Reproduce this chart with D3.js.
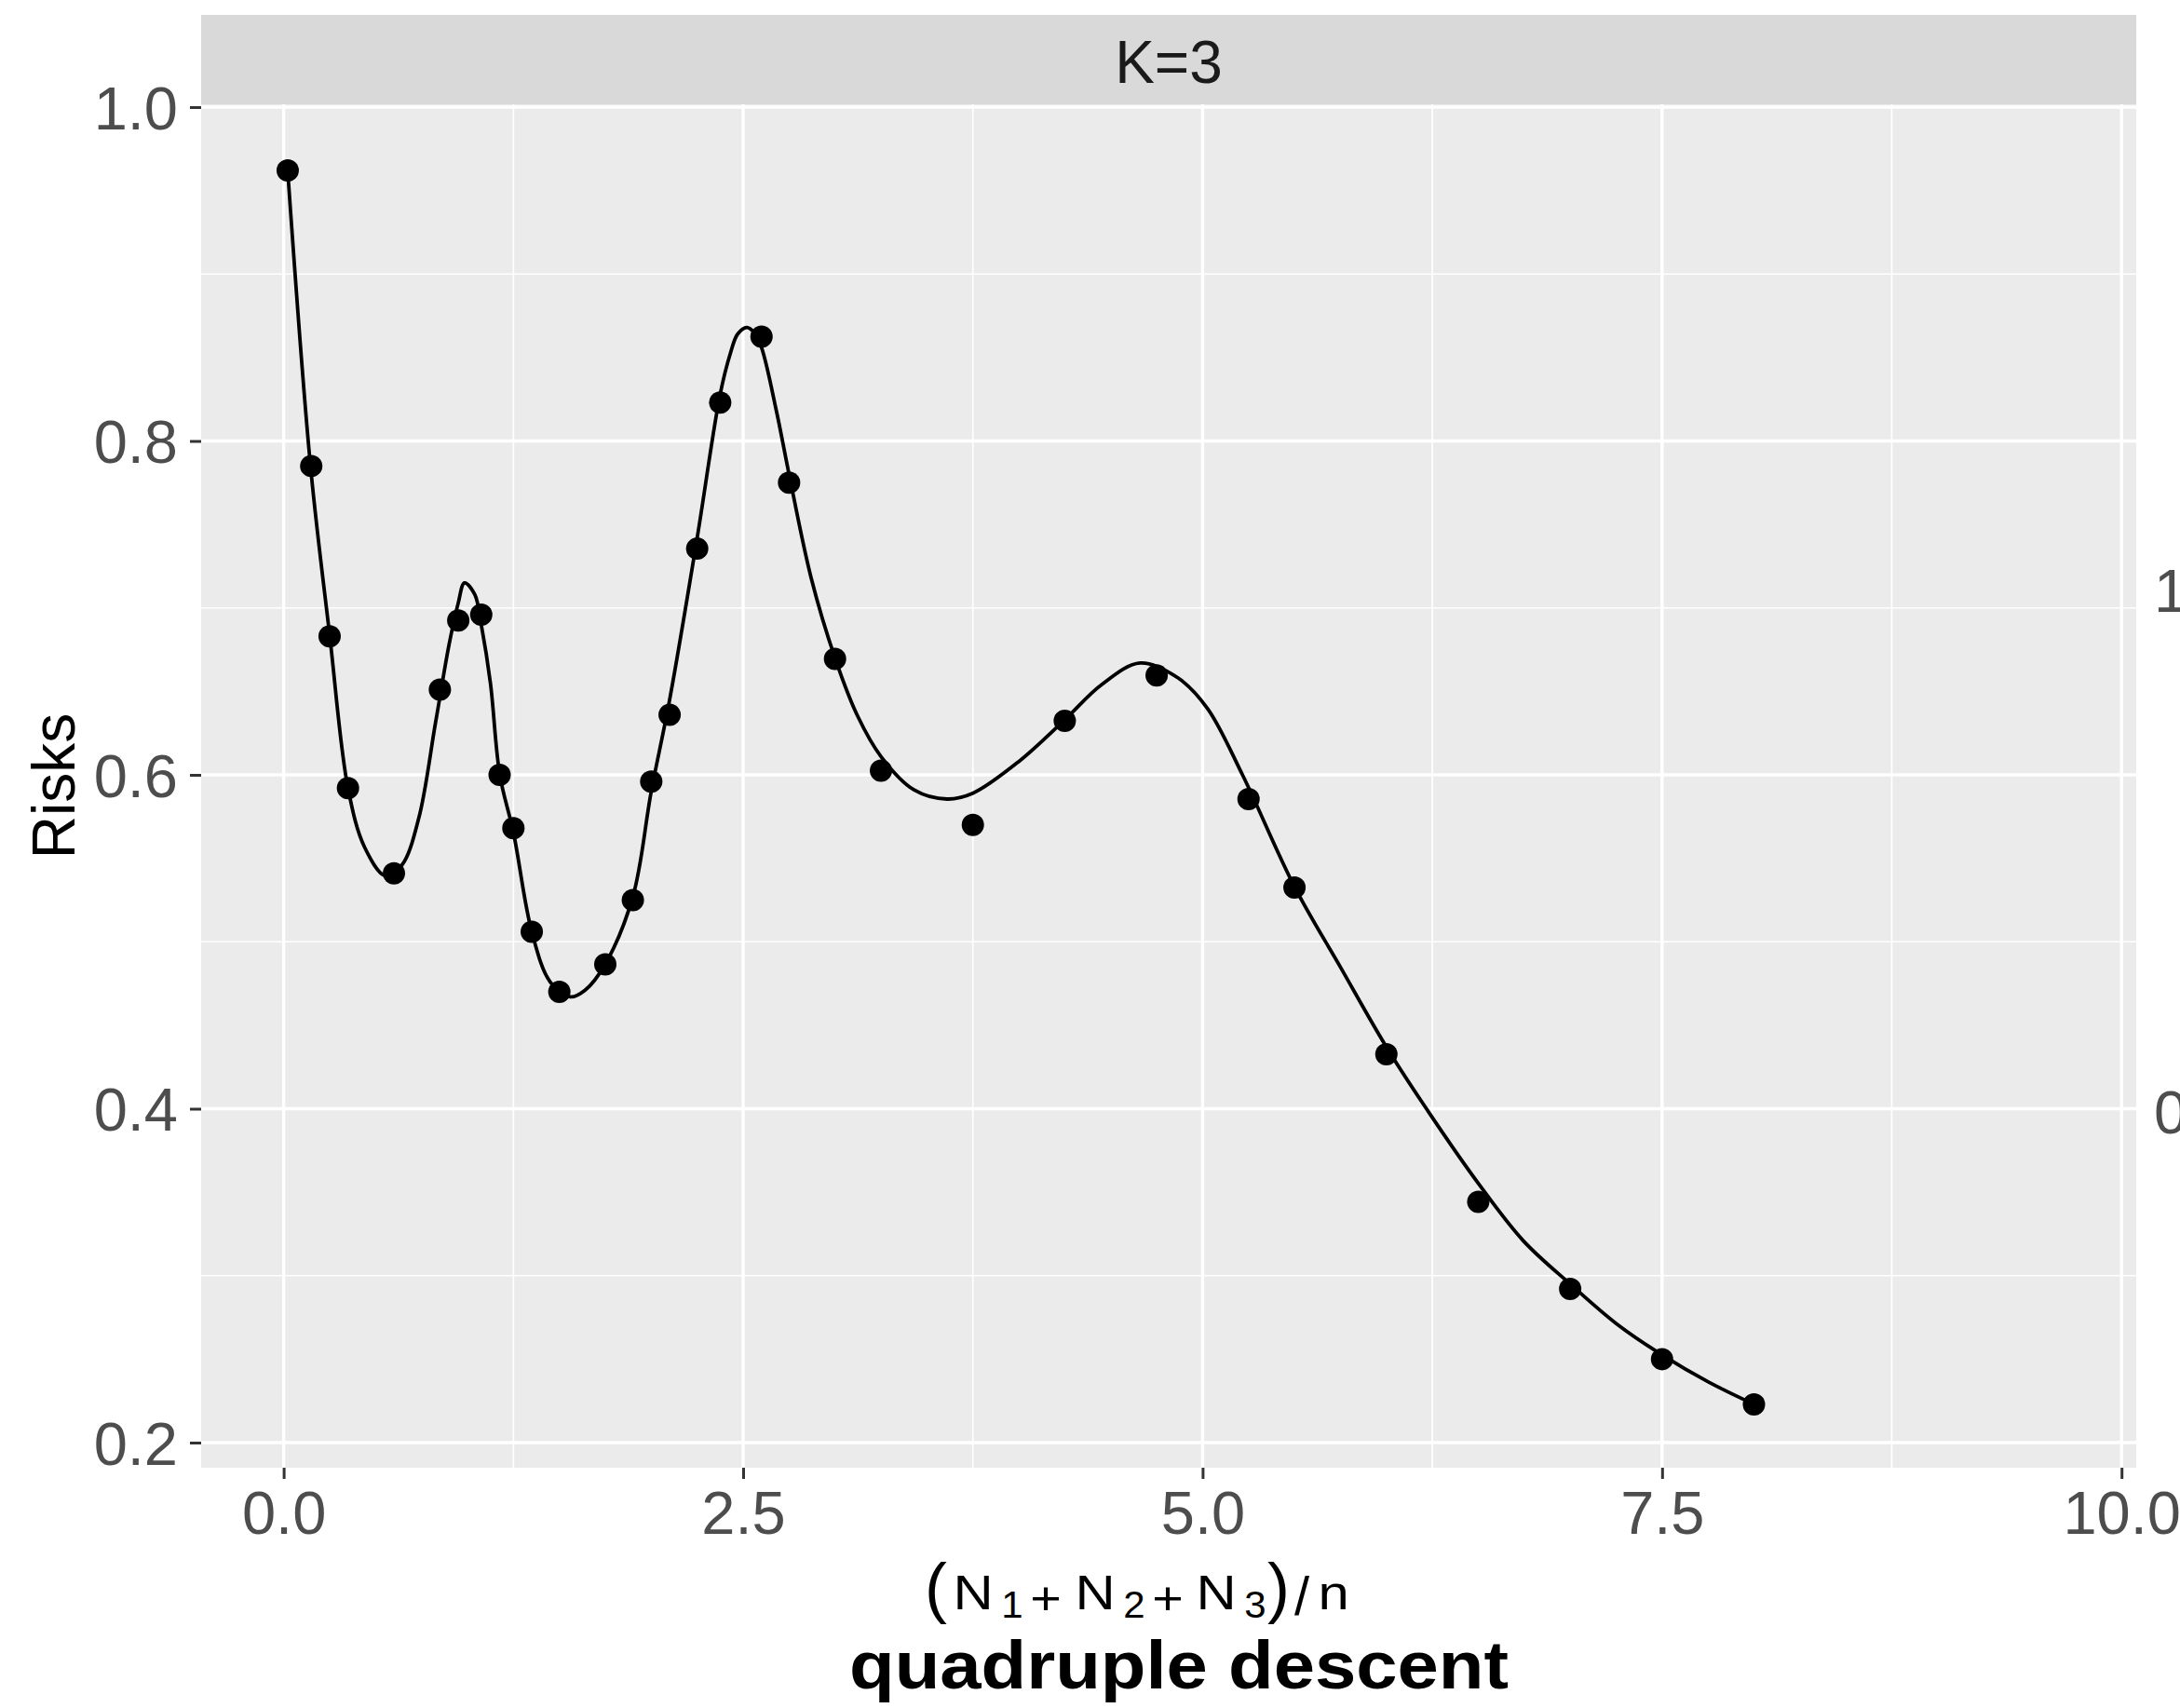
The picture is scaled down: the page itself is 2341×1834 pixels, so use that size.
<!DOCTYPE html>
<html>
<head>
<meta charset="utf-8">
<script src="https://cdn.jsdelivr.net/npm/d3@7"></script>
<style>
  html, body { margin: 0; padding: 0; background: #ffffff; }
  svg { display: block; }
</style>
</head>
<body>
<svg id="chart" width="2341" height="1834"></svg>
<script>
// ---------------- data ----------------
const xPoints = [0.022, 0.15, 0.25, 0.35, 0.6, 0.85, 0.95, 1.075, 1.175, 1.25, 1.35, 1.5, 1.75, 1.9, 2.0, 2.1, 2.25, 2.375, 2.6, 2.75, 3.0, 3.25, 3.75, 4.25, 4.75, 5.25, 5.5, 6.0, 6.5, 7.0, 7.5, 8.0];
const yPoints = [0.962, 0.785, 0.683, 0.592, 0.541, 0.651, 0.6925, 0.696, 0.600, 0.568, 0.506, 0.470, 0.4865, 0.525, 0.596, 0.636, 0.7355, 0.823, 0.8625, 0.775, 0.6695, 0.6025, 0.570, 0.6324, 0.6595, 0.5855, 0.5325, 0.4326, 0.3442, 0.2921, 0.250, 0.2229];

const curveX = [0.022, 0.146, 0.251, 0.35, 0.441, 0.554, 0.644, 0.735, 0.826, 0.9, 0.95, 0.984, 1.04, 1.075, 1.125, 1.176, 1.251, 1.35, 1.45, 1.56, 1.64, 1.749, 1.9, 2.0, 2.1, 2.25, 2.375, 2.432, 2.47, 2.52, 2.56, 2.6, 2.681, 2.75, 2.87, 3.0, 3.124, 3.25, 3.43, 3.61, 3.75, 4.0, 4.25, 4.45, 4.66, 4.867, 5.025, 5.217, 5.5, 5.749, 6.0, 6.236, 6.502, 6.744, 7.0, 7.254, 7.5, 7.752, 8.0];
const curveY = [0.962, 0.785, 0.683, 0.592, 0.5565, 0.5395, 0.546, 0.574, 0.631, 0.678, 0.703, 0.715, 0.708, 0.690, 0.655, 0.600, 0.565, 0.506, 0.476, 0.467, 0.471, 0.4865, 0.527, 0.590, 0.645, 0.742, 0.828, 0.853, 0.864, 0.868, 0.865, 0.856, 0.818, 0.780, 0.718, 0.670, 0.635, 0.611, 0.591, 0.5855, 0.589, 0.608, 0.633, 0.654, 0.667, 0.658, 0.640, 0.600, 0.533, 0.485, 0.437, 0.397, 0.355, 0.321, 0.295, 0.271, 0.2525, 0.2363, 0.2229];

const xTicks = [0, 2.5, 5, 7.5, 10];
const xMinor = [1.25, 3.75, 6.25, 8.75];
const yTicks = [0.2, 0.4, 0.6, 0.8, 1.0];
const yMinor = [0.3, 0.5, 0.7, 0.9];
const stripLabel = "K=3";
const yTitle = "Risks";
const subTitle = "quadruple descent";
const cutLabels = ["1", "0"];
// pieces of the x-axis expression (N1 + N2 + N3)/n
const mathPieces = ["(", "N", "1", "+", "N", "2", "+", "N", "3", ")", "/", "n"];
const mathKinds  = ["paren", "main", "sub", "op", "main", "sub", "op", "main", "sub", "paren", "slash", "main"];

// ---------------- layout ----------------
const FONT = "'Liberation Sans', Arial, Helvetica, sans-serif";
const svg = d3.select("#chart");
const panel = { left: 216, right: 2294, top: 112, bottom: 1576 };
const strip = { top: 16, bottom: 112 };

const x = d3.scaleLinear().domain([-0.449, 10.08]).range([panel.left, panel.right]);
const y = d3.scaleLinear().domain([0.18494, 1.00167]).range([panel.bottom, panel.top]);

svg.append("rect").attr("x", 0).attr("y", 0).attr("width", 2341).attr("height", 1834).attr("fill", "#ffffff");

// strip
svg.append("rect")
  .attr("x", panel.left).attr("y", strip.top)
  .attr("width", panel.right - panel.left).attr("height", strip.bottom - strip.top)
  .attr("fill", "#D9D9D9");
svg.append("text")
  .attr("x", (panel.left + panel.right) / 2).attr("y", 89)
  .attr("text-anchor", "middle")
  .attr("font-family", FONT).attr("font-size", 64).attr("fill", "#1A1A1A")
  .text(stripLabel);

// panel background
svg.append("rect")
  .attr("x", panel.left).attr("y", panel.top)
  .attr("width", panel.right - panel.left).attr("height", panel.bottom - panel.top)
  .attr("fill", "#EBEBEB");

const grid = svg.append("g");
grid.selectAll("line.ymin").data(yMinor).join("line")
  .attr("x1", panel.left).attr("x2", panel.right)
  .attr("y1", d => y(d)).attr("y2", d => y(d))
  .attr("stroke", "#ffffff").attr("stroke-width", 1.7);
grid.selectAll("line.xmin").data(xMinor).join("line")
  .attr("y1", panel.top).attr("y2", panel.bottom)
  .attr("x1", d => x(d)).attr("x2", d => x(d))
  .attr("stroke", "#ffffff").attr("stroke-width", 1.7);
grid.selectAll("line.ymaj").data(yTicks).join("line")
  .attr("x1", panel.left).attr("x2", panel.right)
  .attr("y1", d => y(d)).attr("y2", d => y(d))
  .attr("stroke", "#ffffff").attr("stroke-width", 3.4);
grid.selectAll("line.xmaj").data(xTicks).join("line")
  .attr("y1", panel.top).attr("y2", panel.bottom)
  .attr("x1", d => x(d)).attr("x2", d => x(d))
  .attr("stroke", "#ffffff").attr("stroke-width", 3.4);

// smooth curve
const curveData = curveX.map((v, i) => [v, curveY[i]]);
svg.append("path")
  .datum(curveData)
  .attr("fill", "none").attr("stroke", "#000000").attr("stroke-width", 3.8)
  .attr("stroke-linejoin", "round")
  .attr("d", d3.line().x(d => x(d[0])).y(d => y(d[1])).curve(d3.curveCatmullRom.alpha(0.5)));

// points
const pts = xPoints.map((v, i) => [v, yPoints[i]]);
svg.append("g").selectAll("circle").data(pts).join("circle")
  .attr("cx", d => x(d[0])).attr("cy", d => y(d[1])).attr("r", 12)
  .attr("fill", "#000000");

// axes
const xAxis = svg.append("g")
  .attr("transform", `translate(0,${panel.bottom})`)
  .call(d3.axisBottom(x).tickValues(xTicks).tickFormat(d3.format(".1f")).tickSize(12).tickPadding(13));
const yAxis = svg.append("g")
  .attr("transform", `translate(${panel.left},0)`)
  .call(d3.axisLeft(y).tickValues(yTicks).tickFormat(d3.format(".1f")).tickSize(12).tickPadding(13));
[xAxis, yAxis].forEach(a => {
  a.select(".domain").remove();
  a.selectAll(".tick line").attr("stroke", "#333333").attr("stroke-width", 3);
  a.selectAll(".tick text").attr("fill", "#4D4D4D").attr("font-family", FONT).attr("font-size", 65);
});
yAxis.selectAll(".tick text").attr("dy", "0.36em");

// cut-off labels of the neighbouring panel at the right edge
svg.selectAll("text.cut").data(cutLabels).join("text")
  .attr("class", "cut")
  .attr("x", 2313)
  .attr("y", (d, i) => [657, 1217][i])
  .attr("font-family", FONT).attr("font-size", 65).attr("fill", "#4D4D4D")
  .text(d => d);

// y title
svg.append("text")
  .attr("transform", `translate(80,${(panel.top + panel.bottom) / 2}) rotate(-90)`)
  .attr("text-anchor", "middle")
  .attr("font-family", FONT).attr("font-size", 64).attr("fill", "#000000")
  .text(yTitle);

// x title expression, laid out piece by piece
const mathCenters = [1005, 1045, 1087, 1123, 1176, 1218, 1254, 1306, 1348, 1373, 1398, 1432];
const kindStyle = {
  paren: { fs: 72, base: 1729, sx: 1.0 },
  main:  { fs: 52, base: 1728, sx: 1.15 },
  sub:   { fs: 40, base: 1737, sx: 1.05 },
  op:    { fs: 50, base: 1733, sx: 1.15 },
  slash: { fs: 58, base: 1734, sx: 1.0 }
};
const mg = svg.append("g");
mathPieces.forEach((p, i) => {
  const st = kindStyle[mathKinds[i]];
  mg.append("text")
    .attr("transform", `translate(${mathCenters[i]},${st.base}) scale(${st.sx},1)`)
    .attr("text-anchor", "middle")
    .attr("font-family", FONT).attr("font-size", st.fs).attr("fill", "#000000")
    .text(p);
});

// bold caption
svg.append("text")
  .attr("x", 1266).attr("y", 1813)
  .attr("text-anchor", "middle")
  .attr("font-family", FONT).attr("font-size", 72).attr("font-weight", "bold")
  .attr("fill", "#000000")
  .attr("textLength", 708).attr("lengthAdjust", "spacingAndGlyphs")
  .text(subTitle);
</script>
</body>
</html>
